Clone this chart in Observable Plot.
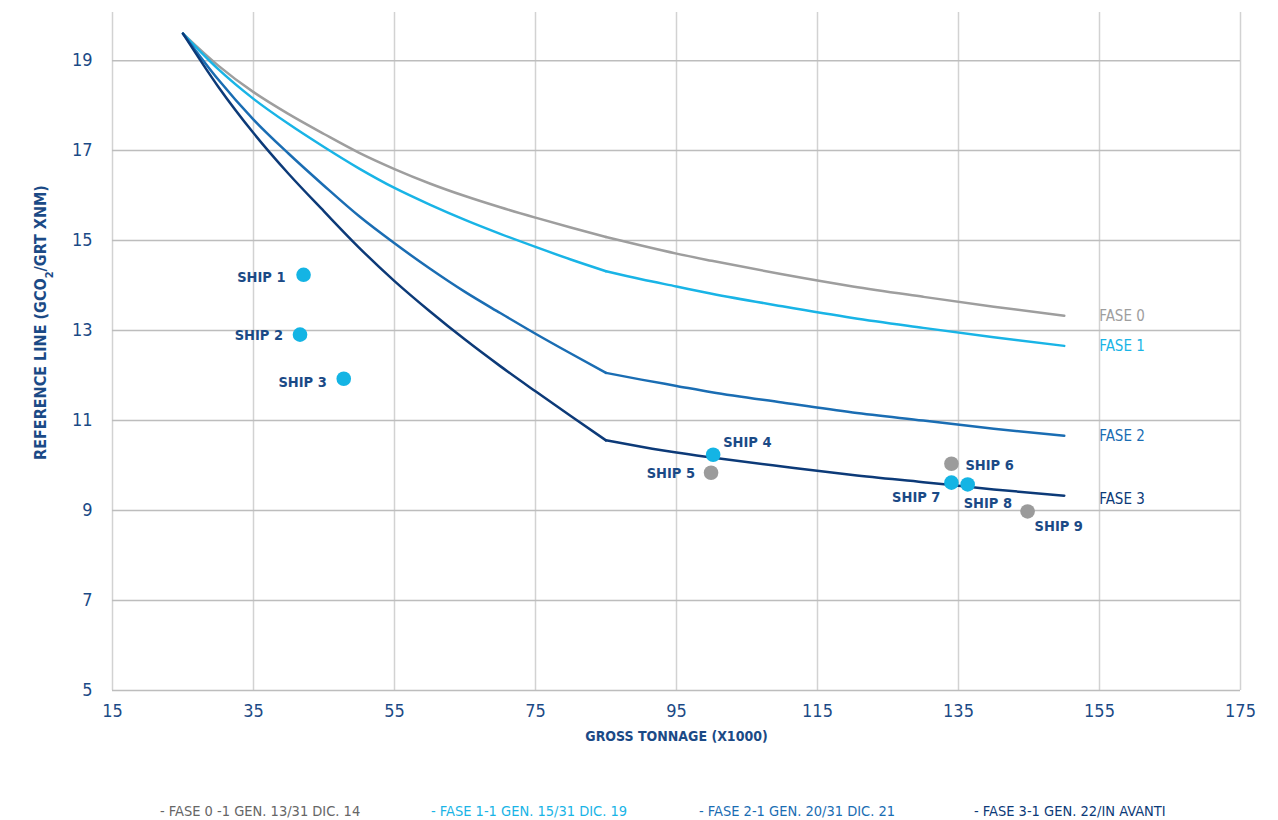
<!DOCTYPE html>
<html>
<head>
<meta charset="utf-8">
<script src="https://cdn.jsdelivr.net/npm/d3@7"></script>
<script src="https://cdn.jsdelivr.net/npm/@observablehq/plot@0.6"></script>
<style>
  body { margin: 0; background: #fff; font-family: "DejaVu Sans Condensed", "Liberation Sans Narrow", sans-serif; }
  #wrap { position: relative; width: 1278px; height: 820px; }
  #legend { position: absolute; left: 0; top: 780px; width: 1278px; height: 40px; }
  #legend span { position: absolute; top: 22px; font-size: 14.5px; line-height: 18px; white-space: nowrap; }
</style>
</head>
<body>
<div id="wrap">
  <div id="chart"></div>
  <div id="legend"></div>
</div>
<script>
// ---- data ----
const tonnage = [25, 30, 35, 40, 45, 50, 55, 60, 65, 70, 75, 80, 85, 90, 95, 100, 110, 120, 130, 140, 150];
const fase0 = [19.6, 18.89, 18.30, 17.81, 17.37, 16.95, 16.59, 16.27, 15.99, 15.74, 15.51, 15.29, 15.08, 14.89, 14.71, 14.55, 14.25, 13.98, 13.75, 13.53, 13.33];
const fase1 = [19.6, 18.81, 18.15, 17.59, 17.08, 16.60, 16.17, 15.80, 15.46, 15.15, 14.86, 14.58, 14.32, 14.14, 13.98, 13.82, 13.54, 13.28, 13.06, 12.85, 12.66];
const fase2 = [19.6, 18.58, 17.69, 16.93, 16.22, 15.54, 14.94, 14.38, 13.86, 13.39, 12.93, 12.49, 12.06, 11.91, 11.77, 11.63, 11.40, 11.18, 11.00, 10.82, 10.66];
const fase3 = [19.6, 18.42, 17.39, 16.48, 15.65, 14.84, 14.10, 13.43, 12.80, 12.21, 11.65, 11.10, 10.56, 10.42, 10.29, 10.18, 9.98, 9.79, 9.63, 9.47, 9.33];
const kinkTonnage = 85;
const faseNames = ["FASE 0", "FASE 1", "FASE 2", "FASE 3"];
const legendLabels = ["- FASE 0 -1 GEN. 13/31 DIC. 14", "- FASE 1-1 GEN. 15/31 DIC. 19", "- FASE 2-1 GEN. 20/31 DIC. 21", "- FASE 3-1 GEN. 22/IN AVANTI"];

const shipNames = ["SHIP 1", "SHIP 2", "SHIP 3", "SHIP 4", "SHIP 5", "SHIP 6", "SHIP 7", "SHIP 8", "SHIP 9"];
const shipTonnage = [42.1, 41.6, 47.8, 100.2, 99.9, 134.0, 134.0, 136.3, 144.8];
const shipValue = [14.24, 12.91, 11.93, 10.24, 9.84, 10.04, 9.62, 9.58, 8.98];
const shipGroup = ["A", "A", "A", "A", "B", "B", "A", "A", "B"];

const xTicks = [15, 35, 55, 75, 95, 115, 135, 155, 175];
const yTicks = [5, 7, 9, 11, 13, 15, 17, 19];
const xTitle = "GROSS TONNAGE (X1000)";
const yTitle = "REFERENCE LINE (GCO2/GRT XNM)";

// ---- styling ----
const FONT = '"DejaVu Sans Condensed", "Liberation Sans Narrow", sans-serif';
const NAVY = "#1b4a86";
const faseColors = ["#9e9e9e", "#19b4e6", "#1a6db3", "#0c3a78"];
const legendColors = ["#666666", "#19b4e6", "#1a6db3", "#0c3a78"];
const groupColors = {A: "#14b4e4", B: "#9b9b9b"};
const labelPlacement = [
  {anchor: "end", dx: -18, dy: 3},
  {anchor: "end", dx: -17, dy: 1},
  {anchor: "end", dx: -17, dy: 4},
  {anchor: "start", dx: 10, dy: -12},
  {anchor: "end", dx: -16, dy: 1},
  {anchor: "start", dx: 14, dy: 2},
  {anchor: "end", dx: -11, dy: 15},
  {anchor: "start", dx: -4, dy: 19},
  {anchor: "start", dx: 7, dy: 15}
];

const series = [fase0, fase1, fase2, fase3];
// each line drawn as two smooth pieces joined at the kink
const lineData = series.flatMap((vals, i) => tonnage.flatMap((t, j) => {
  const rows = [];
  if (t <= kinkTonnage) rows.push({fase: faseNames[i], part: faseNames[i] + "a", x: t, y: vals[j]});
  if (t >= kinkTonnage) rows.push({fase: faseNames[i], part: faseNames[i] + "b", x: t, y: vals[j]});
  return rows;
}));
const endData = series.map((vals, i) => ({fase: faseNames[i], x: tonnage[tonnage.length - 1], y: vals[vals.length - 1]}));
const ships = shipNames.map((n, i) => ({name: n, x: shipTonnage[i], y: shipValue[i], g: shipGroup[i]}));

const marks = [
  Plot.gridX(xTicks, {stroke: "#d2d2d2", strokeOpacity: 1, strokeWidth: 1.5}),
  Plot.gridY(yTicks, {stroke: "#bdbdbd", strokeOpacity: 1, strokeWidth: 1.5}),
  Plot.axisX(xTicks, {tickSize: 0, tickPadding: 14, fontSize: 18, fill: NAVY, label: null}),
  Plot.axisY(yTicks, {tickSize: 0, tickPadding: 20, fontSize: 18, fill: NAVY, label: null}),
  ...faseNames.map((f, i) => Plot.line(lineData.filter(d => d.fase === f), {x: "x", y: "y", z: "part", curve: "monotone-x", stroke: faseColors[i], strokeWidth: 2.5})),
  ...faseNames.map((f, i) => Plot.text([endData[i]], {x: "x", y: "y", text: "fase", fill: faseColors[i], textAnchor: "start", dx: 35, dy: i === 3 ? 3 : 0, fontSize: 15})),
  Plot.dot(ships, {x: "x", y: "y", r: 7.3, fill: d => groupColors[d.g], stroke: "none"}),
  ...ships.map((s, i) => Plot.text([s], {x: "x", y: "y", text: "name", textAnchor: labelPlacement[i].anchor, dx: labelPlacement[i].dx, dy: labelPlacement[i].dy, fill: NAVY, fontSize: 14.5, fontWeight: "bold"})),
  Plot.text([xTitle], {frameAnchor: "bottom", textAnchor: "middle", dy: 50, fill: NAVY, fontSize: 14, fontWeight: "bold"}),
  Plot.text([yTitle], {frameAnchor: "left", textAnchor: "middle", rotate: -90, dx: -72, dy: -29, fill: NAVY, fontSize: 16, fontWeight: "bold"})
];

const chart = Plot.plot({
  width: 1278,
  height: 780,
  marginLeft: 112,
  marginRight: 38,
  marginTop: 12,
  marginBottom: 90,
  x: {domain: [15, 175], label: null},
  y: {domain: [5, 20.07], label: null},
  style: {fontFamily: FONT, background: "white", color: NAVY},
  marks
});
document.getElementById("chart").appendChild(chart);

// subscript "2" in the y title
d3.select(chart).selectAll("text").filter(function () { return this.textContent === yTitle; }).each(function () {
  const t = d3.select(this);
  t.text(null);
  t.append("tspan").text("REFERENCE LINE (GCO");
  t.append("tspan").attr("baseline-shift", "sub").attr("font-size", "11").text("2");
  t.append("tspan").text("/GRT XNM)");
});

// legend below the chart
const legend = d3.select("#legend");
const legendLeft = [160, 431, 699, 974];
legendLabels.forEach((l, i) => {
  legend.append("span").style("left", legendLeft[i] + "px").style("color", legendColors[i]).text(l);
});
</script>
</body>
</html>
